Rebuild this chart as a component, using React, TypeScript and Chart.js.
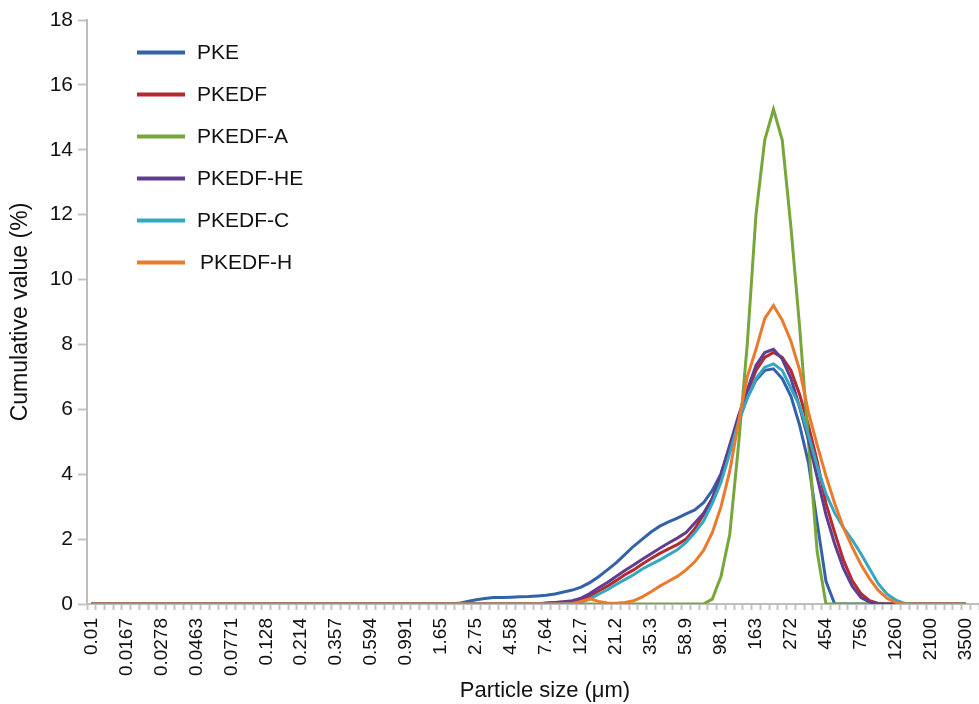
import React, { useEffect, useRef } from 'react';
import { Chart, registerables } from 'chart.js';

Chart.register(...registerables);

// Particle size classes (µm) — category axis, every 4th is labelled
const sizeLabels = [
  '0.01', '0.0114', '0.0129', '0.0147', '0.0167', '0.0189', '0.0215', '0.0244', '0.0278', '0.0315',
  '0.0358', '0.0407', '0.0463', '0.0526', '0.0597', '0.0679', '0.0771', '0.0876', '0.0995', '0.113',
  '0.128', '0.146', '0.166', '0.188', '0.214', '0.243', '0.276', '0.314', '0.357', '0.405',
  '0.46', '0.523', '0.594', '0.675', '0.767', '0.872', '0.991', '1.13', '1.28', '1.45',
  '1.65', '1.88', '2.13', '2.42', '2.75', '3.12', '3.55', '4.03', '4.58', '5.21',
  '5.92', '6.72', '7.64', '8.68', '9.86', '11.2', '12.7', '14.5', '16.4', '18.7',
  '21.2', '24.1', '27.4', '31.1', '35.3', '40.1', '45.6', '51.8', '58.9', '66.9',
  '76', '86.4', '98.1', '111', '127', '144', '163', '186', '211', '240',
  '272', '310', '352', '400', '454', '516', '586', '666', '756', '859',
  '976', '1110', '1260', '1430', '1630', '1850', '2100', '2390', '2710', '3080',
  '3500',
];

const yTickMin = 0;
const yTickMax = 18;
const yTickStep = 2;

const xTitle = 'Particle size (μm)';
const yTitle = 'Cumulative value (%)';

const seriesNames = ['PKE', 'PKEDF', 'PKEDF-A', 'PKEDF-HE', 'PKEDF-C', 'PKEDF-H'];
const seriesColors = ['#3462A9', '#B8292F', '#77A63A', '#5F3E90', '#34A7C1', '#EC7A2C'];

const pke = [
  0, 0, 0, 0, 0, 0, 0, 0, 0, 0,
  0, 0, 0, 0, 0, 0, 0, 0, 0, 0,
  0, 0, 0, 0, 0, 0, 0, 0, 0, 0,
  0, 0, 0, 0, 0, 0, 0, 0, 0, 0,
  0, 0, 0.02, 0.08, 0.13, 0.17, 0.2, 0.2, 0.21, 0.22,
  0.23, 0.25, 0.27, 0.31, 0.37, 0.43, 0.52, 0.66, 0.84, 1.05,
  1.27, 1.52, 1.78, 2.0, 2.22, 2.4, 2.53, 2.65, 2.78, 2.9,
  3.12, 3.5, 4.02, 4.85, 5.65, 6.35, 6.9, 7.2, 7.25, 6.95,
  6.4, 5.5, 4.35, 2.5, 0.7, 0, 0, 0, 0, 0,
  0, 0, 0, 0, 0, 0, 0, 0, 0, 0,
  0,
];

const pkedf = [
  0, 0, 0, 0, 0, 0, 0, 0, 0, 0,
  0, 0, 0, 0, 0, 0, 0, 0, 0, 0,
  0, 0, 0, 0, 0, 0, 0, 0, 0, 0,
  0, 0, 0, 0, 0, 0, 0, 0, 0, 0,
  0, 0, 0, 0, 0, 0, 0, 0, 0, 0,
  0, 0, 0.02, 0.04, 0.06, 0.08, 0.14, 0.25, 0.4, 0.55,
  0.72, 0.9, 1.05, 1.23, 1.4, 1.56, 1.7, 1.83, 2.0, 2.32,
  2.75, 3.25, 3.95, 4.8, 5.7, 6.5, 7.2, 7.6, 7.75, 7.6,
  7.2, 6.45, 5.5, 4.4, 3.1, 2.2, 1.35, 0.72, 0.32, 0.1,
  0.02, 0, 0, 0, 0, 0, 0, 0, 0, 0,
  0,
];

const pkedfA = [
  0, 0, 0, 0, 0, 0, 0, 0, 0, 0,
  0, 0, 0, 0, 0, 0, 0, 0, 0, 0,
  0, 0, 0, 0, 0, 0, 0, 0, 0, 0,
  0, 0, 0, 0, 0, 0, 0, 0, 0, 0,
  0, 0, 0, 0, 0, 0, 0, 0, 0, 0,
  0, 0, 0, 0, 0, 0, 0, 0, 0, 0,
  0, 0, 0, 0, 0, 0, 0, 0, 0, 0,
  0, 0.15, 0.85, 2.15, 4.9, 8.0, 12.0, 14.3, 15.25, 14.3,
  11.6, 8.5, 5.0, 1.6, 0, 0, 0, 0, 0, 0,
  0, 0, 0, 0, 0, 0, 0, 0, 0, 0,
  0,
];

const pkedfHE = [
  0, 0, 0, 0, 0, 0, 0, 0, 0, 0,
  0, 0, 0, 0, 0, 0, 0, 0, 0, 0,
  0, 0, 0, 0, 0, 0, 0, 0, 0, 0,
  0, 0, 0, 0, 0, 0, 0, 0, 0, 0,
  0, 0, 0, 0, 0, 0, 0, 0, 0, 0,
  0, 0, 0.03, 0.05, 0.07, 0.1, 0.18, 0.32, 0.5, 0.66,
  0.85, 1.03, 1.2, 1.38, 1.55, 1.72, 1.88, 2.03, 2.2, 2.5,
  2.8, 3.25, 4.0, 4.9, 5.8, 6.6, 7.35, 7.75, 7.85, 7.55,
  6.95, 6.05, 5.05, 3.9, 2.75, 1.85, 1.1, 0.55, 0.2, 0.06,
  0, 0, 0, 0, 0, 0, 0, 0, 0, 0,
  0,
];

const pkedfC = [
  0, 0, 0, 0, 0, 0, 0, 0, 0, 0,
  0, 0, 0, 0, 0, 0, 0, 0, 0, 0,
  0, 0, 0, 0, 0, 0, 0, 0, 0, 0,
  0, 0, 0, 0, 0, 0, 0, 0, 0, 0,
  0, 0, 0, 0, 0, 0, 0, 0, 0, 0,
  0, 0, 0, 0, 0, 0.02, 0.06, 0.15, 0.3, 0.44,
  0.6, 0.75, 0.9, 1.08, 1.22, 1.36, 1.52, 1.67, 1.9, 2.2,
  2.55, 3.1, 3.75, 4.65, 5.6, 6.35, 6.95, 7.3, 7.4, 7.2,
  6.65, 6.1, 5.2, 4.25, 3.4, 2.8, 2.35, 1.98, 1.55, 1.08,
  0.62, 0.3, 0.12, 0.02, 0, 0, 0, 0, 0, 0,
  0,
];

const pkedfH = [
  0, 0, 0, 0, 0, 0, 0, 0, 0, 0,
  0, 0, 0, 0, 0, 0, 0, 0, 0, 0,
  0, 0, 0, 0, 0, 0, 0, 0, 0, 0,
  0, 0, 0, 0, 0, 0, 0, 0, 0, 0,
  0, 0, 0, 0, 0, 0, 0, 0, 0, 0,
  0, 0, 0, 0, 0, 0, 0.08, 0.16, 0.08, 0.03,
  0.02, 0.05, 0.1, 0.22, 0.38, 0.55, 0.7, 0.85, 1.05, 1.3,
  1.65, 2.2, 3.0, 4.1, 5.6, 7.0, 7.85, 8.8, 9.2, 8.75,
  8.1, 7.2, 5.9, 4.9, 3.95, 3.1, 2.35, 1.75, 1.22, 0.77,
  0.42, 0.17, 0.05, 0, 0, 0, 0, 0, 0, 0,
  0,
];

const seriesValues = [pke, pkedf, pkedfA, pkedfHE, pkedfC, pkedfH];

const FONT = "'Liberation Sans', Arial, Helvetica, sans-serif";
const TEXT = '#111111';
const AXIS = '#bdbdbd';

const insideLegend = {
  id: 'insideLegend',
  afterDraw(chart: any) {
    const ctx = chart.ctx;
    ctx.save();
    chart.data.datasets.forEach((ds: any, i: number) => {
      const y = 52.5 + i * 42;
      ctx.strokeStyle = ds.borderColor;
      ctx.lineWidth = 4;
      ctx.lineCap = 'butt';
      ctx.beginPath();
      ctx.moveTo(137, y);
      ctx.lineTo(185, y);
      ctx.stroke();
      ctx.fillStyle = TEXT;
      ctx.font = `21px ${FONT}`;
      ctx.textAlign = 'left';
      ctx.textBaseline = 'middle';
      ctx.fillText(ds.label, i === 5 ? 200 : 197, y + 1);
    });
    // x-axis title, centred where the original places it
    ctx.font = `22px ${FONT}`;
    ctx.textAlign = 'center';
    ctx.textBaseline = 'middle';
    ctx.fillStyle = TEXT;
    ctx.fillText(xTitle, 545, 691);
    ctx.restore();
  },
};

export default function App() {
  const canvasRef = useRef<HTMLCanvasElement | null>(null);

  useEffect(() => {
    if (!canvasRef.current) return;
    const n = seriesNames.length;
    const chart = new Chart(canvasRef.current, {
      type: 'line',
      data: {
        datasets: seriesNames.map((name, s) => ({
          label: name,
          data: seriesValues[s].map((v, i) => ({ x: i, y: v })),
          borderColor: seriesColors[s],
          backgroundColor: seriesColors[s],
          borderWidth: 3,
          pointRadius: 0,
          pointHoverRadius: 0,
          tension: 0,
          fill: false,
          order: n - s,
        })),
      },
      options: {
        animation: false,
        responsive: true,
        maintainAspectRatio: false,
        devicePixelRatio: 1,
        layout: { padding: { top: 20, left: 0, right: 0, bottom: 0 } },
        plugins: {
          legend: { display: false },
          tooltip: { enabled: false },
          title: { display: false },
        },
        scales: {
          x: {
            type: 'linear',
            min: -0.5,
            max: 101.5,
            afterFit: (scale: any) => {
              scale.height = 100;
              scale.paddingLeft = 0;
              scale.paddingRight = 0;
            },
            border: { display: true, color: AXIS, width: 2 },
            grid: {
              drawOnChartArea: false,
              drawTicks: true,
              tickLength: 6,
              tickWidth: 2,
              tickColor: (ctx: any) =>
                ctx.tick && Number.isInteger(ctx.tick.value) ? 'rgba(0,0,0,0)' : '#c4c4c4',
            },
            ticks: {
              stepSize: 0.5,
              autoSkip: false,
              maxRotation: 90,
              minRotation: 90,
              padding: 8,
              color: TEXT,
              font: { size: 19, family: FONT },
              callback: (value: any) => {
                const v = Number(value);
                if (Number.isInteger(v) && v >= 0 && v < sizeLabels.length && v % 4 === 0) {
                  return sizeLabels[v];
                }
                return '';
              },
            },
            title: { display: false, text: xTitle },
          },
          y: {
            min: yTickMin,
            max: yTickMax,
            afterFit: (scale: any) => {
              scale.width = 87;
            },
            border: { display: true, color: AXIS, width: 2 },
            grid: {
              drawOnChartArea: false,
              drawTicks: true,
              tickLength: 9,
              tickWidth: 2,
              tickColor: '#c4c4c4',
            },
            ticks: {
              stepSize: yTickStep,
              padding: 5,
              color: TEXT,
              font: { size: 21, family: FONT },
            },
            title: {
              display: true,
              text: yTitle,
              color: TEXT,
              font: { size: 23, family: FONT },
              padding: { top: 7, bottom: 0 },
            },
          },
        },
      },
      plugins: [insideLegend],
    });
    return () => chart.destroy();
  }, []);

  return (
    <div
      style={{
        position: 'fixed',
        left: 0,
        top: 0,
        width: 979,
        height: 704,
        background: '#ffffff',
      }}
    >
      <canvas ref={canvasRef} />
    </div>
  );
}
